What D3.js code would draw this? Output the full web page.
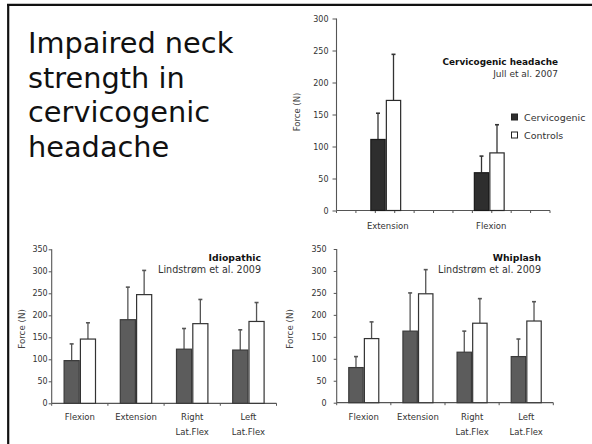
<!DOCTYPE html>
<html>
<head>
<meta charset="utf-8">
<script src="https://cdn.jsdelivr.net/npm/d3@7"></script>
<style>
  html, body { margin: 0; padding: 0; background: #fff; }
  svg { display: block; }
  text { font-family: "DejaVu Sans", sans-serif; }
</style>
</head>
<body>
<svg id="chart" width="592" height="444"></svg>
<script>
// ---------- data ----------
const titleLines = ["Impaired neck", "strength in", "cervicogenic", "headache"];

const topCategories = ["Extension", "Flexion"];
const topCervicogenic = [111, 59];
const topCervicogenicSD = [41, 26];
const topControls = [172, 90];
const topControlsSD = [72, 44];
const topTicks = [0, 50, 100, 150, 200, 250, 300];
const legendLabels = ["Cervicogenic", "Controls"];

const bottomCategories = ["Flexion", "Extension", "Right\nLat.Flex", "Left\nLat.Flex"];
const idioPatients = [97, 190, 123, 121];
const idioPatientsSD = [38, 74, 47, 46];
const idioControls = [146, 247, 181, 186];
const idioControlsSD = [37, 55, 55, 43];
const whipPatients = [80, 163, 115, 105];
const whipPatientsSD = [25, 87, 48, 40];
const whipControls = [146, 248, 181, 186];
const whipControlsSD = [38, 55, 56, 44];
const bottomTicks = [0, 50, 100, 150, 200, 250, 300, 350];

const svg = d3.select("#chart");

// frame lines
svg.append("line").attr("x1", 8.2).attr("x2", 8.2).attr("y1", 4).attr("y2", 444)
  .attr("stroke", "#111").attr("stroke-width", 2.2);
svg.append("line").attr("x1", 7).attr("x2", 592).attr("y1", 4.8).attr("y2", 4.8)
  .attr("stroke", "#111").attr("stroke-width", 2.2);

// title
const title = svg.append("text").attr("fill", "#111").attr("font-size", 28.8);
titleLines.forEach((t, i) => {
  title.append("tspan").attr("x", 28).attr("y", 53 + i * 34.6).text(t);
});

function drawChart(o) {
  const g = svg.append("g");
  const y = d3.scaleLinear().domain([0, o.yMax]).range([o.y0, o.yTop]);
  const x = d3.scaleBand().domain(o.categories).range(o.bandRange).paddingInner(0).paddingOuter(0);
  const inner = d3.scaleBand().domain([0, 1]).range([x.bandwidth() / 2 - o.barW, x.bandwidth() / 2 + o.barW]).padding(0);

  // y axis
  const yAxis = d3.axisLeft(y).tickValues(o.ticks).tickSize(o.tickLen).tickPadding(o.tickPad);
  const ya = g.append("g").attr("transform", `translate(${o.axisX0},0)`).call(yAxis);
  ya.select(".domain").attr("stroke", o.axisColor).attr("stroke-width", 1.1)
    .attr("d", `M0,${o.y0}V${o.yTop}`);
  ya.selectAll(".tick line").attr("stroke", o.axisColor).attr("stroke-width", 1);
  ya.selectAll(".tick text").attr("font-size", o.tickFont).attr("fill", "#333")
    .attr("font-family", "DejaVu Sans");

  // x axis line + ticks
  g.append("line").attr("x1", o.axisX0).attr("x2", o.axisX1).attr("y1", o.y0).attr("y2", o.y0)
    .attr("stroke", o.axisColor).attr("stroke-width", 1.2);
  const xt = d3.scaleLinear().domain([0, o.xTickCount - 1]).range([o.axisX0, o.axisX1]);
  g.selectAll(".xtick").data(d3.range(o.xTickCount)).join("line")
    .attr("x1", d => xt(d)).attr("x2", d => xt(d))
    .attr("y1", o.y0).attr("y2", o.y0 + 2.5)
    .attr("stroke", o.axisColor).attr("stroke-width", 1);

  // category labels
  o.categories.forEach(c => {
    const t = g.append("text").attr("text-anchor", "middle").attr("font-size", o.catFont).attr("fill", "#333");
    c.split("\n").forEach((line, i) => {
      t.append("tspan").attr("x", x(c) + x.bandwidth() / 2 + (o.catShift || 0))
        .attr("y", o.catY + i * 14.5).text(line);
    });
  });

  // bars
  const series = [
    { vals: o.s1, sd: o.s1sd, fill: o.darkFill, stroke: o.darkStroke },
    { vals: o.s2, sd: o.s2sd, fill: "#fff", stroke: o.whiteStroke }
  ];
  series.forEach((s, si) => {
    const bx = (d, i) => x(o.categories[i]) + inner(si);
    g.selectAll(null).data(s.vals).join("line")
      .attr("x1", (d, i) => bx(d, i) + inner.bandwidth() / 2)
      .attr("x2", (d, i) => bx(d, i) + inner.bandwidth() / 2)
      .attr("y1", d => y(d)).attr("y2", (d, i) => y(d + s.sd[i]))
      .attr("stroke", o.errColor).attr("stroke-width", 1.3);
    g.selectAll(null).data(s.vals).join("line")
      .attr("x1", (d, i) => bx(d, i) + inner.bandwidth() / 2 - 2)
      .attr("x2", (d, i) => bx(d, i) + inner.bandwidth() / 2 + 2)
      .attr("y1", (d, i) => y(d + s.sd[i])).attr("y2", (d, i) => y(d + s.sd[i]))
      .attr("stroke", o.errColor).attr("stroke-width", 1.6);
    g.selectAll(null).data(s.vals).join("rect")
      .attr("x", (d, i) => bx(d, i) + 0.6)
      .attr("width", inner.bandwidth() - 1.2)
      .attr("y", d => y(d))
      .attr("height", d => o.y0 - y(d))
      .attr("fill", s.fill).attr("stroke", s.stroke).attr("stroke-width", 1.2);
  });

  // y label
  g.append("text").attr("transform", `translate(${o.yLabelX},${o.yLabelY}) rotate(-90)`)
    .attr("text-anchor", "middle").attr("dominant-baseline", "central")
    .attr("font-size", o.yLabelFont).attr("fill", "#444").text("Force (N)");

  // annotation
  g.append("text").attr("x", o.noteX).attr("y", o.noteY).attr("text-anchor", "end")
    .attr("font-size", o.noteBoldFont).attr("font-weight", "bold").attr("fill", "#111").text(o.noteBold);
  g.append("text").attr("x", o.noteX).attr("y", o.noteY + 11.5).attr("text-anchor", "end")
    .attr("font-size", o.noteFont).attr("fill", "#333").text(o.noteSub);

  return { g, x, y };
}

// top chart
const topChart = drawChart({
  categories: topCategories, s1: topCervicogenic, s1sd: topCervicogenicSD,
  s2: topControls, s2sd: topControlsSD, yMax: 300, ticks: topTicks,
  y0: 210.5, yTop: 18.5, axisX0: 336.5, axisX1: 550, bandRange: [334, 541], barW: 15.5,
  tickLen: 4, tickPad: 4, tickFont: 8, xTickCount: 12, catFont: 8.5, catY: 229, catShift: 2,
  darkFill: "#2e2e2e", darkStroke: "#1a1a1a", whiteStroke: "#2a2a2a", errColor: "#333",
  axisColor: "#555",
  yLabelX: 297, yLabelY: 112, yLabelFont: 8.5,
  noteX: 558, noteY: 65, noteBoldFont: 8.9, noteFont: 9, noteBold: "Cervicogenic headache", noteSub: "Jull et al. 2007"
});

// legend
const lg = topChart.g.append("g");
legendLabels.forEach((l, i) => {
  lg.append("rect").attr("x", 511.5).attr("y", 114 + i * 18).attr("width", 6).attr("height", 6)
    .attr("fill", i === 0 ? "#2e2e2e" : "#fff").attr("stroke", "#222").attr("stroke-width", 1);
  lg.append("text").attr("x", 524).attr("y", 120.5 + i * 18).attr("font-size", 9.5)
    .attr("fill", "#333").text(l);
});

// bottom-left chart
drawChart({
  categories: bottomCategories, s1: idioPatients, s1sd: idioPatientsSD,
  s2: idioControls, s2sd: idioControlsSD, yMax: 350, ticks: bottomTicks,
  y0: 403.3, yTop: 249.3, axisX0: 51.7, axisX1: 276.5, bandRange: [51.7, 276.5], barW: 16.3,
  tickLen: 3, tickPad: 1, tickFont: 8, xTickCount: 5, catFont: 8.5, catY: 420,
  darkFill: "#5c5c5c", darkStroke: "#3a3a3a", whiteStroke: "#333", errColor: "#555",
  axisColor: "#555",
  yLabelX: 22, yLabelY: 329, yLabelFont: 8.7,
  noteX: 261, noteY: 261, noteBoldFont: 9.3, noteFont: 9.6, noteBold: "Idiopathic", noteSub: "Lindstrøm et al. 2009"
});

// bottom-right chart
drawChart({
  categories: bottomCategories, s1: whipPatients, s1sd: whipPatientsSD,
  s2: whipControls, s2sd: whipControlsSD, yMax: 350, ticks: bottomTicks,
  y0: 402.7, yTop: 249, axisX0: 336.7, axisX1: 553.3, bandRange: [336.7, 553.3], barW: 15.6,
  tickLen: 3, tickPad: 7, tickFont: 8, xTickCount: 5, catFont: 8.5, catY: 420,
  darkFill: "#5c5c5c", darkStroke: "#3a3a3a", whiteStroke: "#333", errColor: "#555",
  axisColor: "#555",
  yLabelX: 290, yLabelY: 329, yLabelFont: 8.7,
  noteX: 541, noteY: 261, noteBoldFont: 9.3, noteFont: 9.6, noteBold: "Whiplash", noteSub: "Lindstrøm et al. 2009"
});
</script>
</body>
</html>
